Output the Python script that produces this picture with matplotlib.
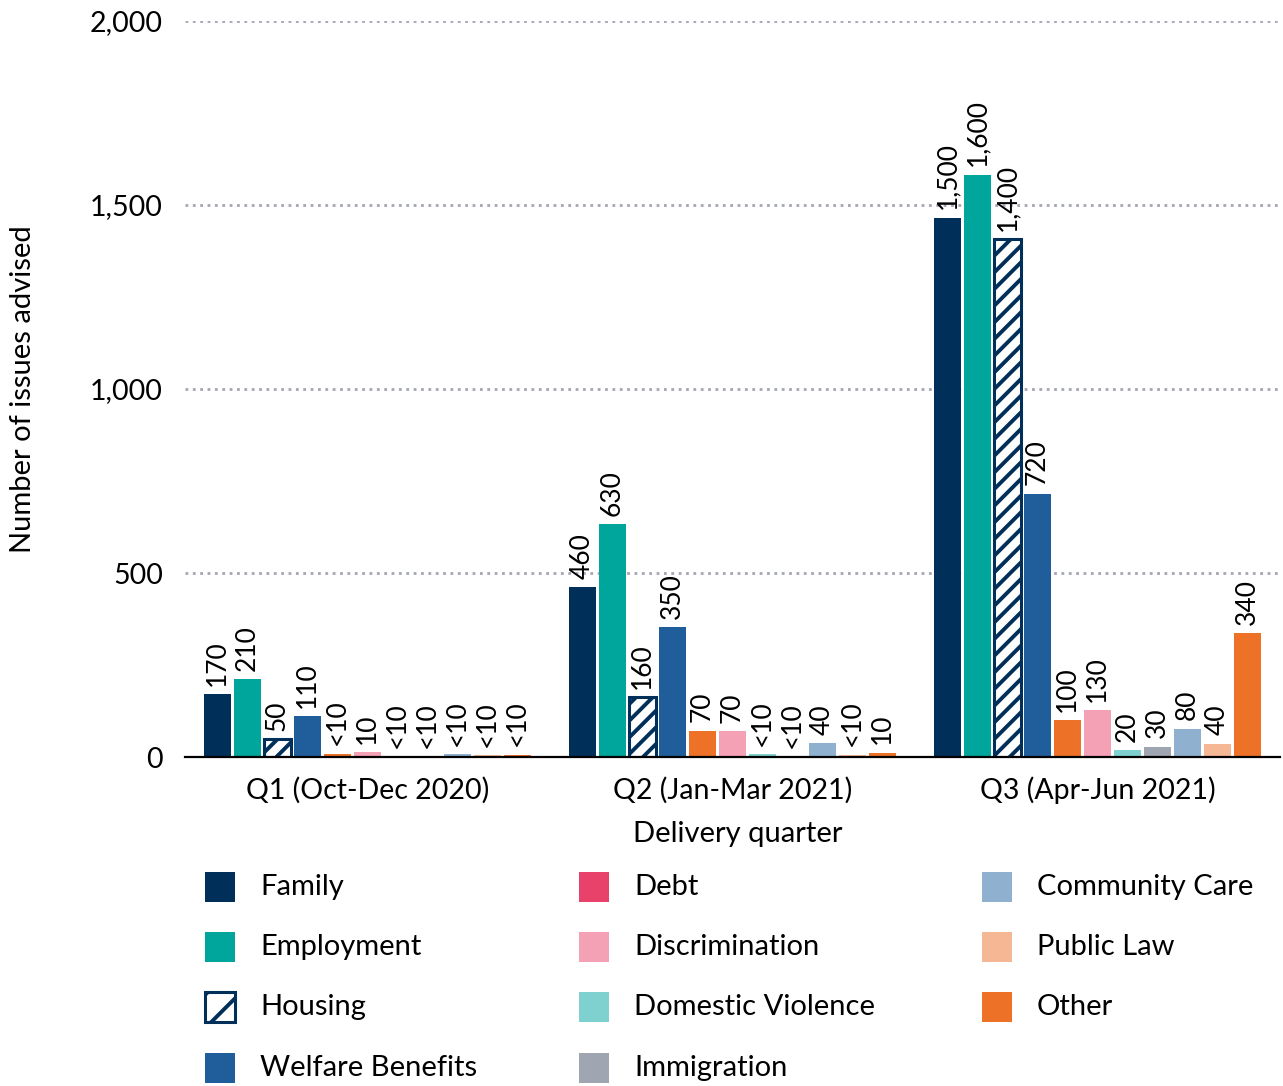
import numpy as np
import matplotlib.pyplot as plt
from matplotlib.patches import Rectangle
from matplotlib.ticker import FuncFormatter

plt.rcParams['font.family'] = ['Lato', 'DejaVu Sans']
plt.rcParams['hatch.linewidth'] = 2.8

quarters = ['Q1 (Oct-Dec 2020)', 'Q2 (Jan-Mar 2021)', 'Q3 (Apr-Jun 2021)']

categories = ['Family', 'Employment', 'Housing', 'Welfare Benefits', 'Debt',
              'Discrimination', 'Domestic Violence', 'Immigration',
              'Community Care', 'Public Law', 'Other']

# issues advised per quarter
family = [171, 462, 1466]
employment = [212, 632, 1582]
housing = [48, 162, 1408]
welfare_benefits = [111, 353, 716]
debt = [9, 72, 100]
discrimination = [13, 71, 127]
domestic_violence = [2, 8, 18]
immigration = [1, 3, 28]
community_care = [8, 38, 77]
public_law = [5, 6, 36]
other = [6, 12, 336]

series = [family, employment, housing, welfare_benefits, debt, discrimination,
          domestic_violence, immigration, community_care, public_law, other]

navy = '#00305a'
bar_colors = [navy, '#00a59b', 'white', '#205e9b', '#ee7128', '#f4a0b5',
              '#7fd1cf', '#a0a5b2', '#8fb0ce', '#f5b794', '#ee7128']
key_colors = [navy, '#00a59b', 'white', '#205e9b', '#e8416a', '#f4a0b5',
              '#7fd1cf', '#a0a5b2', '#8fb0ce', '#f5b794', '#ee7128']


def fmt(v):
    # small counts are suppressed, the rest rounded to 2 significant figures
    if v < 10:
        return '<10'
    step = max(10, 10 ** (int(np.floor(np.log10(v))) - 1))
    r = int(v / step + 0.5) * step
    return f'{r:,}'


W, H = 1283, 1086
fig = plt.figure(figsize=(W / 100, H / 100), dpi=100)
ax = fig.add_axes([185 / W, 1 - 757 / H, 1095 / W, 736 / H])

x = np.arange(len(quarters))
slot = 0.0822
bar_w = 0.074

for i, (name, vals) in enumerate(zip(categories, series)):
    pos = x + (i - 5) * slot
    if name == 'Housing':
        bars = ax.bar(pos, vals, bar_w, facecolor='white', edgecolor=navy,
                      hatch='//', linewidth=2.2, zorder=3)
    else:
        bars = ax.bar(pos, vals, bar_w, color=bar_colors[i], linewidth=0, zorder=3)
    for b, v in zip(bars, vals):
        ax.annotate(fmt(v), (b.get_x() + b.get_width() / 2, v), xytext=(0, 6),
                    textcoords='offset points', rotation=90, ha='center',
                    va='bottom', fontsize=19, color='black')

ax.set_xlim(-0.5, 2.5)
ax.set_ylim(0, 2000)
ax.set_yticks([0, 500, 1000, 1500, 2000])
ax.yaxis.set_major_formatter(FuncFormatter(lambda v, p: f'{int(v):,}'))
ax.set_xticks(x)
ax.set_xticklabels(quarters)
ax.tick_params(axis='both', length=0, labelsize=20.5)
ax.tick_params(axis='y', pad=16)
ax.tick_params(axis='x', pad=14)

for y in [500, 1000, 1500, 2000]:
    ax.axhline(y, color='#a3a6b4', linestyle=':', linewidth=2, zorder=1)

for s in ['top', 'right', 'left']:
    ax.spines[s].set_visible(False)
ax.spines['bottom'].set_linewidth(1.6)
ax.spines['bottom'].set_color('black')
ax.spines['bottom'].set_zorder(4)

ax.set_ylabel('Number of issues advised', fontsize=21)
ax.yaxis.set_label_coords((36 - 185) / 1095, 0.5)
ax.set_xlabel('Delivery quarter', fontsize=21)
ax.xaxis.set_label_coords((738 - 185) / 1095, (757 - 821) / 736)

# key: three columns laid out below the axis
col_x = [205, 579, 982]
row_top = [872, 932, 992, 1053]
sq = 30
for i, name in enumerate(categories):
    c, r = (i // 4, i % 4)
    x0, y0 = col_x[c], row_top[r]
    if name == 'Housing':
        patch = Rectangle((x0 / W, 1 - (y0 + sq) / H), sq / W, sq / H,
                          transform=fig.transFigure, facecolor='white',
                          edgecolor=navy, hatch='/', linewidth=2.2)
    else:
        patch = Rectangle((x0 / W, 1 - (y0 + sq) / H), sq / W, sq / H,
                          transform=fig.transFigure, facecolor=key_colors[i],
                          linewidth=0)
    fig.patches.append(patch)
    fig.text((x0 + 55) / W, 1 - (y0 + sq / 2) / H, name, fontsize=21,
             va='center', ha='left')

fig.savefig('out.png', dpi=100)
